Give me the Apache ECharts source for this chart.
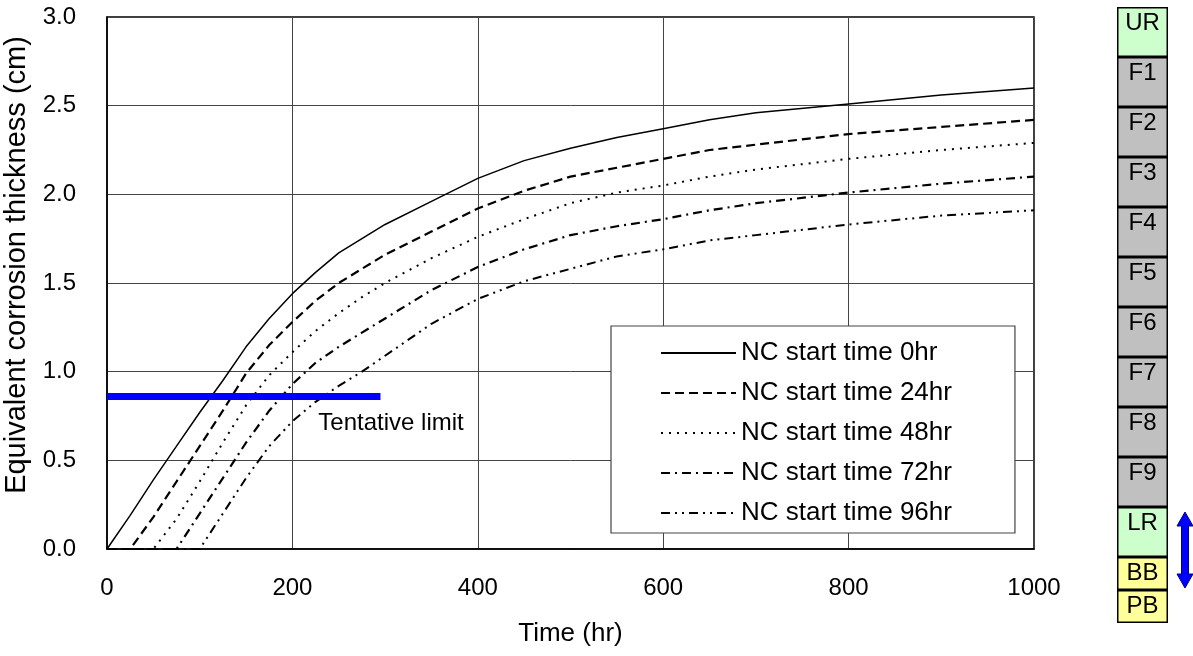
<!DOCTYPE html>
<html><head><meta charset="utf-8">
<script src="https://cdn.jsdelivr.net/npm/echarts@6/dist/echarts.min.js"></script>
<style>html,body{margin:0;padding:0;background:#fff}#c{width:1193px;height:656px}</style>
</head><body><div id="c"></div>
<script>
// ---- data ----
const times = [0,25,50,75,100,125,150,175,200,225,250,275,300,350,400,450,500,550,600,650,700,800,900,1000];
const nc0  = [0,0.19,0.39,0.58,0.77,0.95,1.14,1.30,1.44,1.56,1.67,1.75,1.83,1.96,2.09,2.19,2.26,2.32,2.37,2.42,2.46,2.51,2.56,2.60];
const nc24 = [0,0,0.18,0.38,0.58,0.78,0.99,1.15,1.28,1.40,1.50,1.58,1.66,1.79,1.92,2.02,2.10,2.15,2.20,2.25,2.28,2.34,2.38,2.42];
const nc48 = [0,0,0,0.17,0.38,0.60,0.81,0.98,1.11,1.23,1.33,1.42,1.50,1.64,1.76,1.86,1.95,2.01,2.05,2.10,2.14,2.20,2.25,2.29];
const nc72 = [0,0,0,0,0.20,0.40,0.60,0.78,0.93,1.05,1.14,1.22,1.30,1.46,1.59,1.69,1.77,1.82,1.86,1.91,1.95,2.01,2.06,2.10];
const nc96 = [0,0,0,0,0,0.20,0.40,0.58,0.72,0.83,0.92,1.00,1.09,1.27,1.41,1.51,1.58,1.65,1.69,1.74,1.77,1.83,1.88,1.91];
const seriesNames = ['NC start time 0hr','NC start time 24hr','NC start time 48hr','NC start time 72hr','NC start time 96hr'];
const xTicks = [0,200,400,600,800,1000];
const yTicks = [0,0.5,1.0,1.5,2.0,2.5,3.0];
const limitTimes = [0, 295];
const limitValue = 0.86;
const limitText = 'Tentative limit';
const limitTextAt = [228, 0.71];
const layerNames = ['UR','F1','F2','F3','F4','F5','F6','F7','F8','F9','LR','BB','PB'];
const layerHeights = [1,1,1,1,1,1,1,1,1,1,1,0.66,0.66];

// ---- styles ----
const FONT = '"Liberation Sans", Arial, sans-serif';
const lineStyles = [
  {type:'solid', width:1.5},
  {type:[9,5], width:2.2},
  {type:[2,6], width:2},
  {type:[9,5,2,5], width:2.2},
  {type:[9,5,2,5,2,5], width:2}
];
const layerColor = n => (n==='UR'||n==='LR') ? '#ccffcc' : (n==='BB'||n==='PB') ? '#ffff99' : '#c0c0c0';

const allVals = [nc0,nc24,nc48,nc72,nc96];
const lineSeries = allVals.map((vals,k)=>({
  name: seriesNames[k], type:'line', xAxisIndex:0, yAxisIndex:0,
  data: times.map((t,i)=>[t, vals[i]]),
  symbol:'none', z:3,
  lineStyle: Object.assign({color:'#000'}, lineStyles[k]),
  itemStyle:{color:'#000'}
}));

const layerSeries = layerNames.map((n,i)=>({
  name:n, type:'bar', stack:'col', xAxisIndex:1, yAxisIndex:1,
  data:[layerHeights[i]], barWidth:51, silent:true,
  itemStyle:{color:layerColor(n), borderColor:'#000', borderWidth:1.5},
  label:{show:true, position:'insideTop', distance:4, formatter:n, fontSize:24, color:'#000', fontFamily:FONT}
}));

const chart = echarts.init(document.getElementById('c'));
chart.setOption({
  animation:false,
  backgroundColor:'#fff',
  grid:[
    {left:107, top:17, width:927, height:532, show:true, borderColor:'#000', borderWidth:1.5, backgroundColor:'transparent', outerBoundsMode:'none', containLabel:false},
    {left:1117, top:7, width:51, height:616, outerBoundsMode:'none', containLabel:false}
  ],
  xAxis:[
    {type:'value', gridIndex:0, min:0, max:1000, interval:200,
     name:'Time (hr)', nameLocation:'middle', nameGap:72,
     nameTextStyle:{fontSize:26, color:'#000', fontFamily:FONT},
     axisLine:{show:true, lineStyle:{color:'#000', width:1.5}},
     axisTick:{show:false},
     axisLabel:{fontSize:24, color:'#000', margin:27, fontFamily:FONT, formatter:v=>String(v)},
     splitLine:{show:true, lineStyle:{color:'#444', width:1}}},
    {type:'category', gridIndex:1, data:['col'], show:false}
  ],
  yAxis:[
    {type:'value', gridIndex:0, min:0, max:3, interval:0.5,
     name:'Equivalent corrosion thickness (cm)', nameLocation:'middle', nameGap:65, nameRotate:90,
     nameTextStyle:{fontSize:29, color:'#000', fontFamily:FONT, padding:[0,0,0,36]},
     axisLine:{show:true, lineStyle:{color:'#000', width:1.5}},
     axisTick:{show:false},
     axisLabel:{fontSize:24, color:'#000', margin:31, fontFamily:FONT, formatter:v=>v.toFixed(1)},
     splitLine:{show:true, lineStyle:{color:'#444', width:1}}},
    {type:'value', gridIndex:1, min:0, max:layerHeights.reduce((a,b)=>a+b,0), inverse:true, show:false}
  ],
  legend:{
    data:seriesNames, orient:'vertical', left:611, top:326,
    itemWidth:75, itemHeight:14, itemGap:14,
    padding:[14,63,7,49],
    backgroundColor:'#fff', borderColor:'#444', borderWidth:1.2,
    itemStyle:{opacity:0},
    textStyle:{fontSize:26, color:'#000', fontFamily:FONT},
    selectedMode:false
  },
  series:[
    ...lineSeries,
    {name:'limit', type:'line', xAxisIndex:0, yAxisIndex:0, z:5, symbol:'none',
     data: limitTimes.map(t=>[t, limitValue]),
     lineStyle:{color:'#0000ff', width:7}},
    {name:'limitLabel', type:'scatter', xAxisIndex:0, yAxisIndex:0, z:6,
     data:[limitTextAt], symbolSize:0, itemStyle:{color:'#000'},
     label:{show:true, position:'right', distance:0, formatter:limitText, fontSize:24, color:'#000', fontFamily:FONT, opacity:1}},
    ...layerSeries
  ],
  graphic:[
    {type:'polygon', z:10, shape:{points:[[1185,512],[1193,526],[1188.5,526],[1188.5,574],[1193,574],[1185,588],[1177,574],[1181.5,574],[1181.5,526],[1177,526]]},
     style:{fill:'#0000ff', stroke:'#000080', lineWidth:1}}
  ]
});
</script></body></html>
